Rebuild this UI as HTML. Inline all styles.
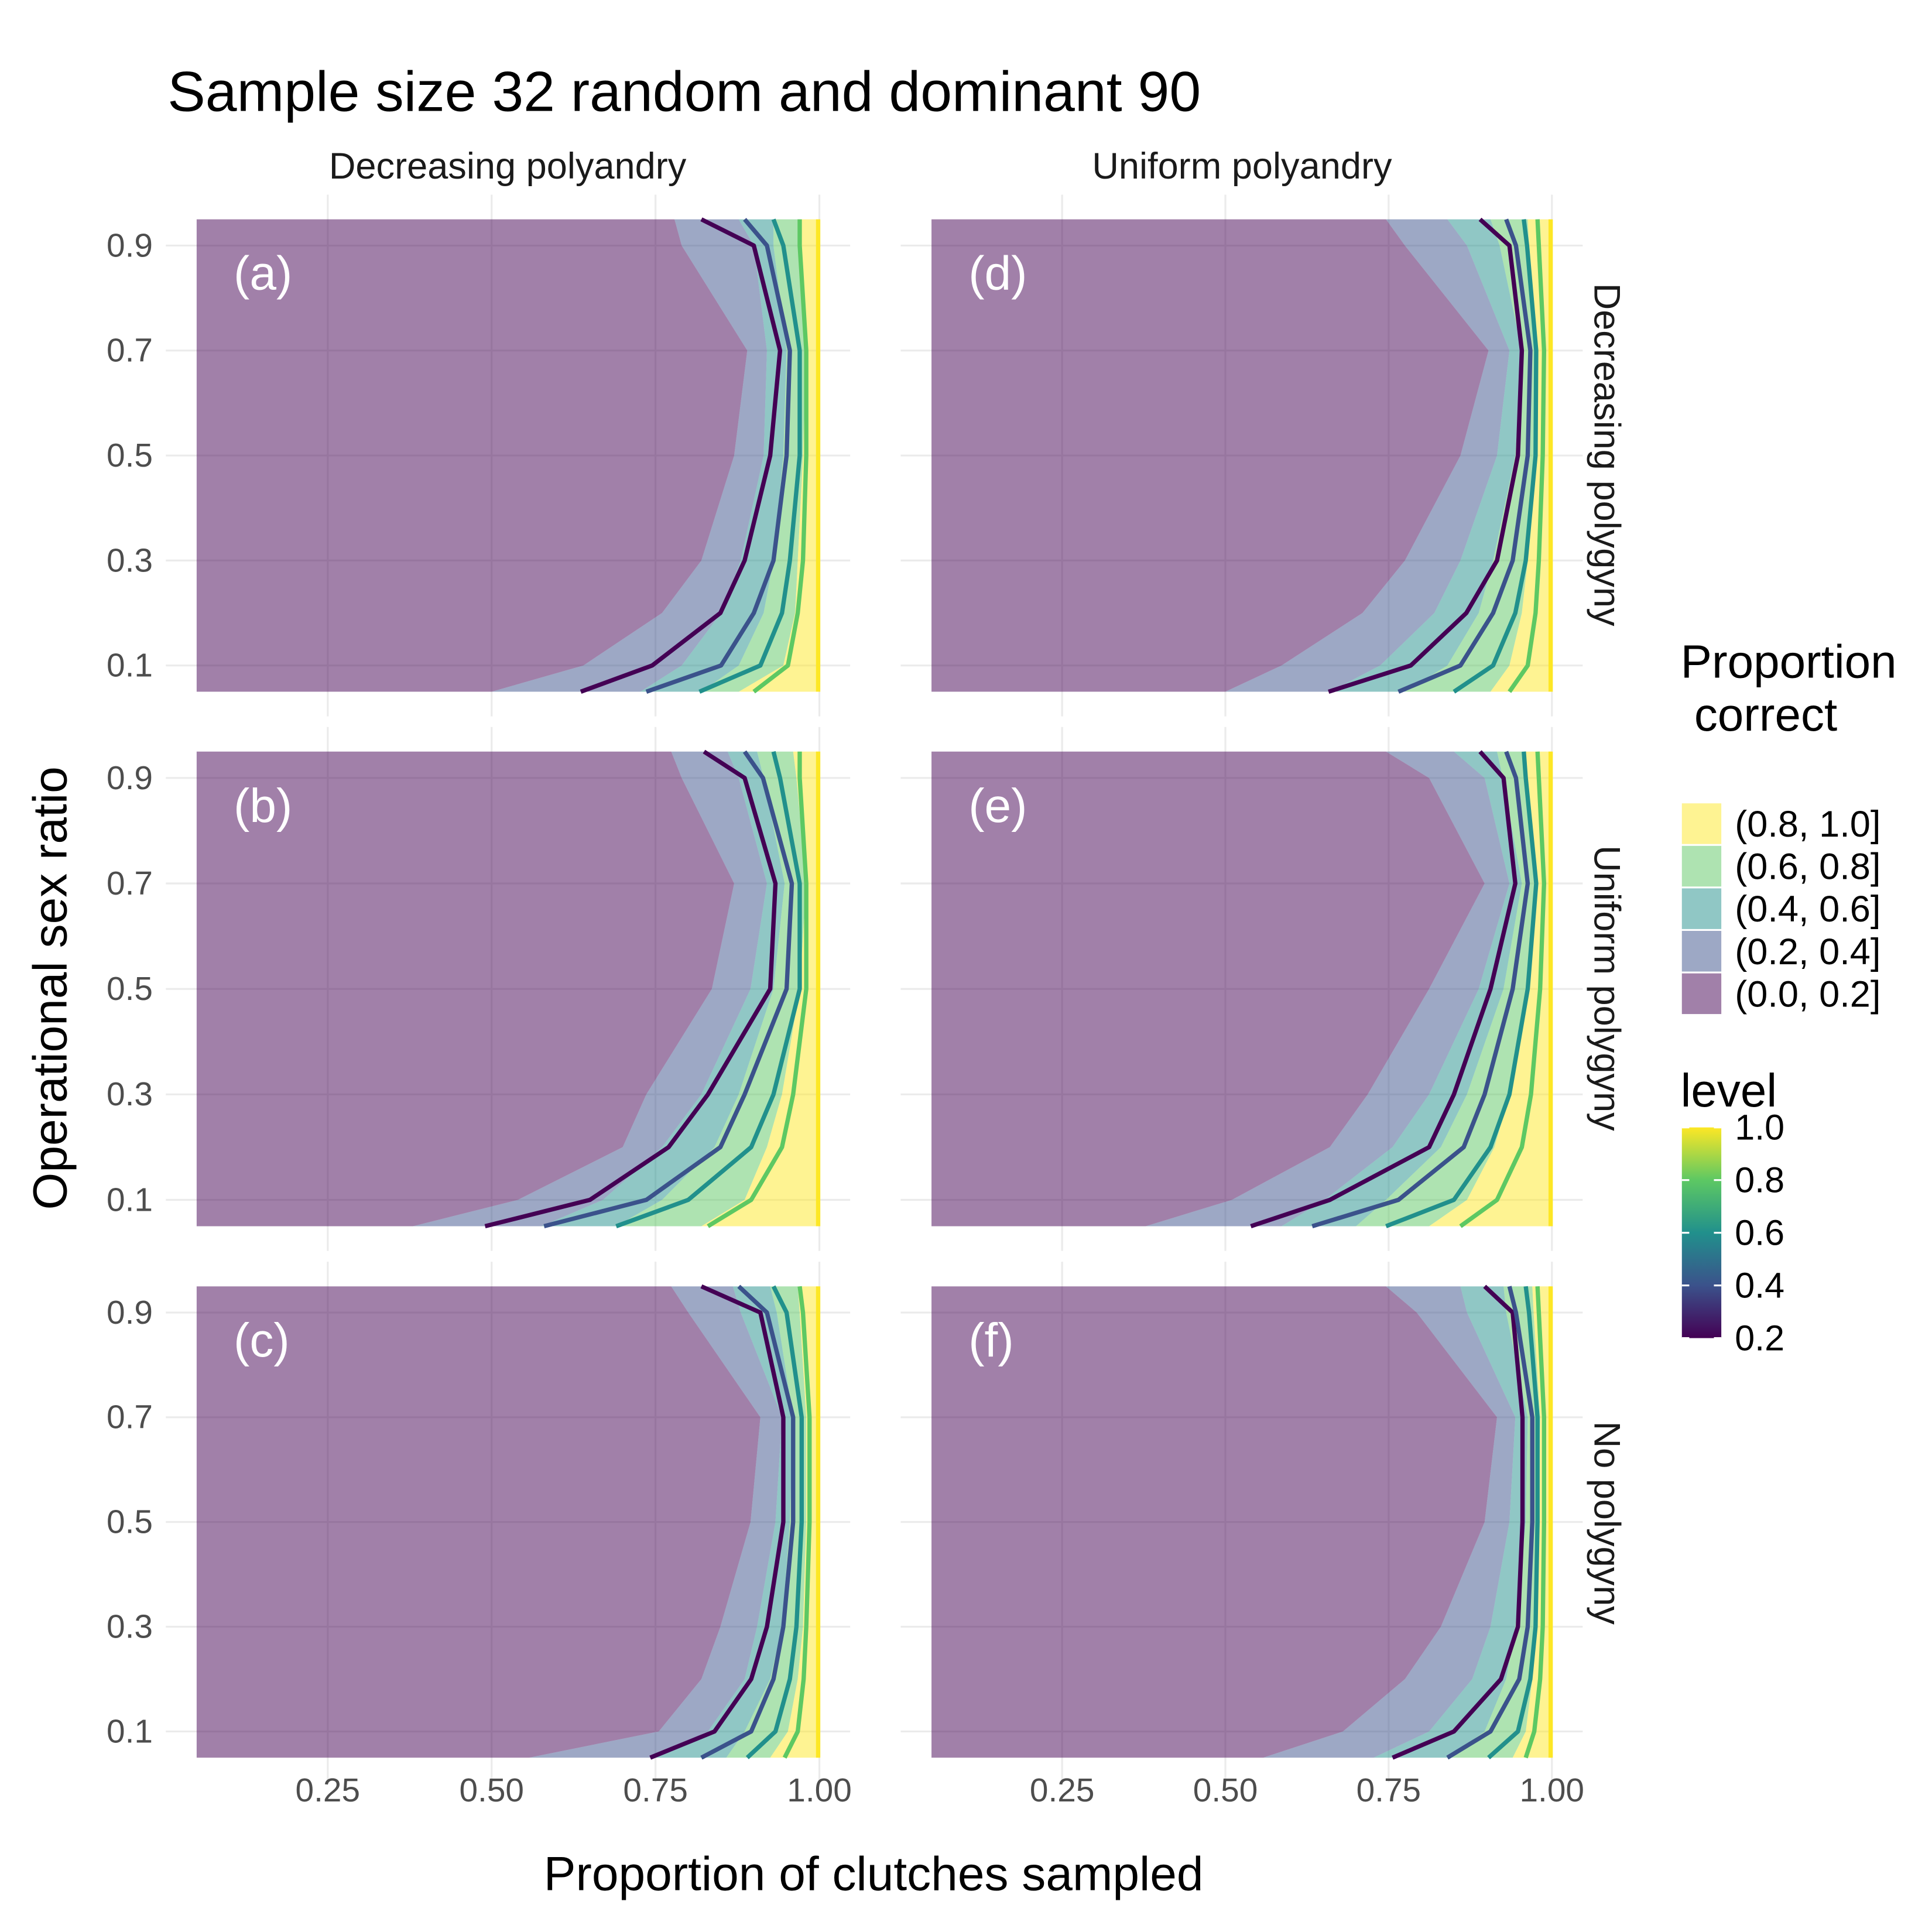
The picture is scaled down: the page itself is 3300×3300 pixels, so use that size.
<!DOCTYPE html>
<html><head><meta charset="utf-8"><style>
html,body{margin:0;padding:0;background:#fff}
svg{display:block}
text{font-family:"Liberation Sans",Arial,sans-serif}
</style></head><body>
<svg id="chart" xmlns="http://www.w3.org/2000/svg" width="3300" height="3300" viewBox="0 0 1568 1568">
<rect x="0" y="0" width="1568" height="1568" fill="#fff"/>
<text x="136" y="90" font-size="46" fill="#000">Sample size 32 random and dominant 90</text>
<text x="412" y="145" font-size="30" text-anchor="middle" fill="#1a1a1a">Decreasing polyandry</text>
<text x="1008" y="145" font-size="30" text-anchor="middle" fill="#1a1a1a">Uniform polyandry</text>
<text transform="translate(1294,369) rotate(90)" font-size="30" text-anchor="middle" fill="#1a1a1a">Decreasing polygyny</text>
<text transform="translate(1294,802) rotate(90)" font-size="30" text-anchor="middle" fill="#1a1a1a">Uniform polygyny</text>
<text transform="translate(1294,1236) rotate(90)" font-size="30" text-anchor="middle" fill="#1a1a1a">No polygyny</text>
<text transform="translate(54,802) rotate(-90)" font-size="39" text-anchor="middle" fill="#000">Operational sex ratio</text>
<text x="709" y="1534" font-size="39" text-anchor="middle" fill="#000">Proportion of clutches sampled</text>
<g id="panels"></g>
<g id="legend">
<text x="1364" y="550" font-size="38" fill="#000">Proportion</text>
<text x="1375" y="593" font-size="38" fill="#000">correct</text>
</g>
<defs><linearGradient id="vir" x1="0" y1="1" x2="0" y2="0">
<stop offset="0" stop-color="#440154"/><stop offset="0.25" stop-color="#3b528b"/><stop offset="0.5" stop-color="#21908c"/><stop offset="0.75" stop-color="#5dc863"/><stop offset="1" stop-color="#fde725"/>
</linearGradient></defs>
<text x="1364" y="898" font-size="38" fill="#000">level</text>
<rect x="1365" y="915" width="32" height="171" fill="url(#vir)"/>
<g id="cbticks"></g>
</svg>
<script>
const yGrid=[0.05,0.1,0.2,0.3,0.5,0.7,0.9,0.95];
const panelLabels=["(a)","(b)","(c)","(d)","(e)","(f)"];
const bandLabels=["(0.8, 1.0]","(0.6, 0.8]","(0.4, 0.6]","(0.2, 0.4]","(0.0, 0.2]"];
const xTicks=[0.25,0.5,0.75,1.0];
const xTickLabels=["0.25","0.50","0.75","1.00"];
const yTicks=[0.1,0.3,0.5,0.7,0.9];
const cbTicks=[0.2,0.4,0.6,0.8,1.0];
const fillA=[[0.50,0.64,0.76,0.82,0.87,0.89,0.79,0.779],[0.727,0.79,0.85,0.88,0.915,0.92,0.9,0.877],[0.82,0.877,0.915,0.93,0.945,0.95,0.93,0.93],[0.877,0.945,0.963,0.967,0.975,0.98,0.97,0.97]];
const lineA=[[0.636,0.745,0.849,0.886,0.925,0.94,0.9,0.82],[0.736,0.85,0.9,0.93,0.95,0.955,0.92,0.886],[0.817,0.91,0.943,0.955,0.97,0.97,0.945,0.93],[0.9,0.952,0.967,0.975,0.98,0.98,0.97,0.97]];
const fillB=[[0.38,0.54,0.70,0.736,0.836,0.87,0.79,0.774],[0.576,0.67,0.76,0.82,0.895,0.92,0.877,0.86],[0.69,0.76,0.84,0.877,0.93,0.947,0.915,0.905],[0.82,0.886,0.92,0.943,0.97,0.98,0.965,0.96]];
const lineB=[[0.49,0.65,0.77,0.83,0.925,0.933,0.886,0.824],[0.58,0.736,0.849,0.886,0.95,0.958,0.914,0.886],[0.69,0.80,0.896,0.93,0.97,0.97,0.94,0.93],[0.83,0.896,0.943,0.96,0.98,0.98,0.97,0.97]];
const fillC=[[0.557,0.755,0.82,0.849,0.895,0.91,0.8,0.774],[0.745,0.83,0.886,0.905,0.933,0.943,0.88,0.868],[0.858,0.886,0.925,0.943,0.955,0.96,0.935,0.925],[0.925,0.952,0.967,0.975,0.98,0.98,0.97,0.967]];
const lineC=[[0.742,0.84,0.896,0.92,0.945,0.945,0.91,0.82],[0.82,0.896,0.93,0.945,0.96,0.96,0.92,0.877],[0.89,0.933,0.955,0.965,0.973,0.973,0.95,0.93],[0.947,0.967,0.976,0.98,0.985,0.985,0.975,0.97]];
const fillD=[[0.5,0.586,0.71,0.775,0.86,0.903,0.775,0.746],[0.66,0.737,0.82,0.86,0.916,0.935,0.87,0.84],[0.775,0.84,0.888,0.91,0.944,0.954,0.92,0.906],[0.906,0.935,0.954,0.963,0.975,0.978,0.965,0.963]];
const lineD=[[0.658,0.784,0.869,0.916,0.948,0.954,0.935,0.89],[0.765,0.86,0.91,0.94,0.963,0.967,0.945,0.93],[0.85,0.91,0.944,0.96,0.975,0.976,0.962,0.957],[0.935,0.963,0.975,0.98,0.986,0.988,0.98,0.978]];
const fillE=[[0.378,0.51,0.66,0.718,0.812,0.897,0.812,0.746],[0.586,0.652,0.756,0.812,0.888,0.935,0.897,0.85],[0.7,0.746,0.83,0.87,0.926,0.954,0.925,0.916],[0.812,0.87,0.912,0.935,0.963,0.976,0.962,0.96]];
const lineE=[[0.539,0.66,0.812,0.85,0.906,0.944,0.926,0.89],[0.633,0.765,0.865,0.897,0.94,0.963,0.945,0.93],[0.746,0.85,0.906,0.935,0.963,0.976,0.96,0.957],[0.86,0.916,0.954,0.968,0.982,0.988,0.98,0.978]];
const fillF=[[0.558,0.68,0.775,0.83,0.897,0.916,0.793,0.746],[0.727,0.812,0.878,0.906,0.935,0.944,0.87,0.86],[0.84,0.897,0.93,0.944,0.96,0.963,0.93,0.926],[0.94,0.96,0.97,0.975,0.98,0.982,0.972,0.97]];
const lineF=[[0.756,0.85,0.922,0.948,0.955,0.955,0.94,0.897],[0.84,0.906,0.95,0.963,0.97,0.97,0.945,0.935],[0.903,0.948,0.967,0.975,0.978,0.978,0.965,0.96],[0.96,0.973,0.982,0.986,0.988,0.988,0.98,0.978]];
const fills=[fillA,fillB,fillC,fillD,fillE,fillF];
const lines=[lineA,lineB,lineC,lineD,lineE,lineF];
const bandColors=["#440154","#3b528b","#21908c","#5dc863","#fde725"];
const lineColors=["#440154","#3b528b","#21908c","#5dc863"];
const NS="http://www.w3.org/2000/svg";
function mk(tag,attrs,parent){const e=document.createElementNS(NS,tag);for(const k in attrs)e.setAttribute(k,attrs[k]);parent.appendChild(e);return e;}
const colX0=[159.6,756];const colPx=[532,530];
const rowY95=[178,610,1044];const rowPy=[426,428,425];
const panelsG=document.getElementById('panels');
for(let p=0;p<6;p++){
  const col=p<3?0:1,row=p%3;
  const xs=v=>colX0[col]+(v-0.05)*colPx[col];
  const ys=v=>rowY95[row]+(0.95-v)*rowPy[row];
  const g=mk('g',{},panelsG);
  
  
  const gl=xs(0.05)-25,gr=xs(1.0)+25,gt=ys(0.95)-20,gb=ys(0.05)+20;
  xTicks.forEach(t=>{const l=mk('line',{x1:xs(t),x2:xs(t),y1:gt,y2:gb,stroke:'#ebebeb','stroke-width':1.5},g);
    
    });
  yTicks.forEach(t=>{const l=mk('line',{x1:gl,x2:gr,y1:ys(t),y2:ys(t),stroke:'#ebebeb','stroke-width':1.5},g);
    
    });
  const B=fills[p];
  for(let k=0;k<5;k++){
    const left=k===0?yGrid.map(()=>0.05):B[k-1];
    const right=k===4?yGrid.map(()=>1.0):B[k];
    const pts=[];
    yGrid.forEach((y,i)=>pts.push(xs(left[i])+','+ys(y)));
    for(let i=yGrid.length-1;i>=0;i--)pts.push(xs(right[i])+','+ys(yGrid[i]));
    const poly=mk('polygon',{points:pts.join(' '),fill:bandColors[k],'fill-opacity':0.5},g);
    
    
  }
  const L=lines[p];
  for(let k=0;k<4;k++){
    const pts=yGrid.map((y,i)=>xs(L[k][i])+','+ys(y)).join(' ');
    const pl=mk('polyline',{points:pts,fill:'none',stroke:lineColors[k],'stroke-width':3.5,'stroke-linejoin':'round'},g);
    
    
  }
  const edge=mk('line',{x1:xs(1.0)-1,x2:xs(1.0)-1,y1:ys(0.95),y2:ys(0.05),stroke:'#fde725','stroke-width':3.5},g);
  
  
  const lab=mk('text',{x:xs(0.05)+30,y:ys(0.95)+57,'font-size':39,fill:'#fff'},g);
  lab.textContent=panelLabels[p];
  
  
  if(col===0){yTicks.forEach(t=>{const tx=mk('text',{x:124,y:ys(t)+9,'font-size':27,'text-anchor':'end',fill:'#4d4d4d'},g);
    tx.textContent=t.toFixed(1);
    
    });}
  if(row===2){xTicks.forEach((t,i)=>{const tx=mk('text',{x:xs(t),y:1462,'font-size':27,'text-anchor':'middle',fill:'#4d4d4d'},g);
    tx.textContent=xTickLabels[i];
    
    });}
}
const leg=document.getElementById('legend');
bandLabels.forEach((lbl,i)=>{
  const y=652+i*34.5;
  const r=mk('rect',{x:1365,y:y,width:32,height:33,fill:bandColors[4-i],'fill-opacity':0.5},leg);
  
  
  const t=mk('text',{x:1408,y:y+27,'font-size':30,fill:'#000'},leg);
  t.textContent=lbl;
  
  
});
const cb=document.getElementById('cbticks');
cbTicks.forEach(v=>{
  const y=1086-(v-0.2)/0.8*171;
  const t=mk('text',{x:1408,y:y+10,'font-size':29,fill:'#000'},cb);
  t.textContent=v.toFixed(1);
  
  
  mk('line',{x1:1365,x2:1371,y1:y,y2:y,stroke:'#fff','stroke-width':1.5},cb);
  mk('line',{x1:1391,x2:1397,y1:y,y2:y,stroke:'#fff','stroke-width':1.5},cb);
});
</script>
</body></html>
